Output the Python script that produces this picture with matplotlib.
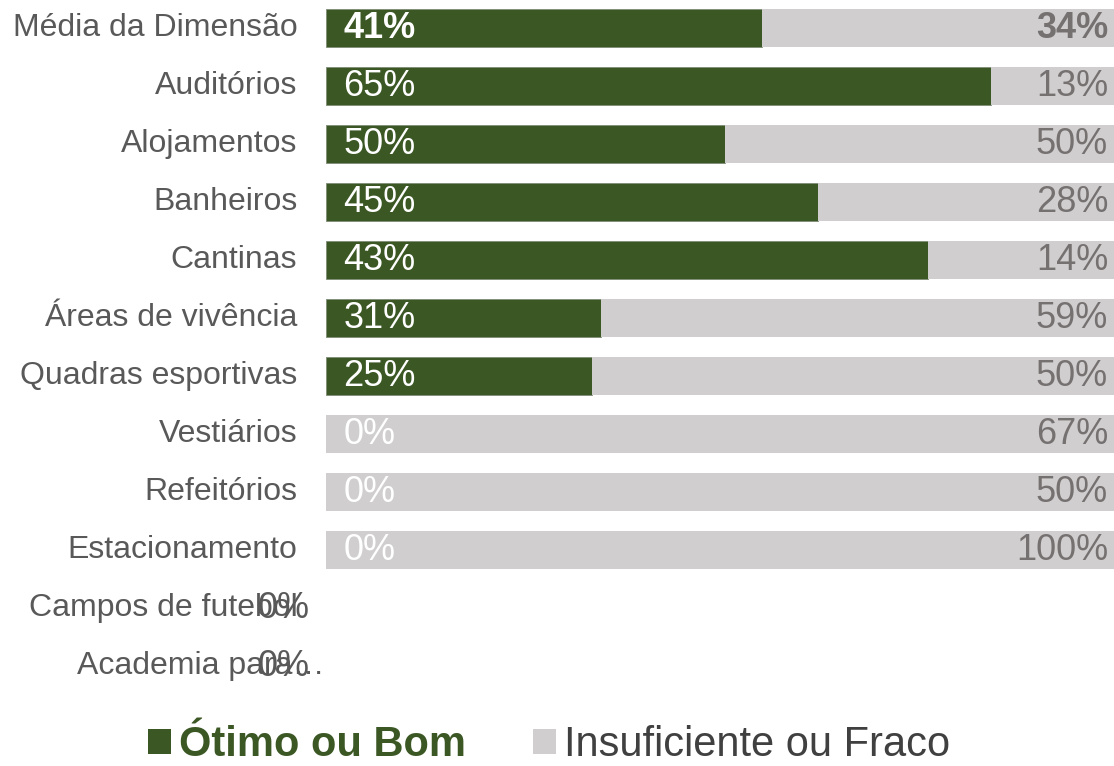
import numpy as np
import matplotlib.pyplot as plt
from matplotlib.patches import Patch

plt.rcParams['font.family'] = ['Liberation Sans', 'DejaVu Sans']

categorias = ["Média da Dimensão", "Auditórios", "Alojamentos", "Banheiros",
              "Cantinas", "Áreas de vivência", "Quadras esportivas", "Vestiários",
              "Refeitórios", "Estacionamento", "Campos de futebol", "Academia para…"]
otimo = [41, 65, 50, 45, 43, 31, 25, 0, 0, 0, 0, 0]
insuficiente = [34, 13, 50, 28, 14, 59, 50, 67, 50, 100, 0, 0]

VERDE = "#3b5724"
CINZA = "#d0cecf"
TXT_CAT = "#595959"
TXT_CINZA = "#767171"

ot = np.array(otimo, dtype=float)
ins = np.array(insuficiente, dtype=float)
total = ot + ins
# stacked 100%: each bar split by share of the two answers
frac_ot = np.divide(ot, total, out=np.zeros_like(ot), where=total > 0)
frac_ins = np.divide(ins, total, out=np.zeros_like(ins), where=total > 0)

W, H = 1114, 766
fig = plt.figure(figsize=(W / 100, H / 100), dpi=100)
ax = fig.add_axes([326 / W, (H - 695) / H, 798 / W, 696 / H])

y = np.arange(len(categorias))
bars = ax.barh(y, frac_ot, height=0.66, color=VERDE, edgecolor="#7f8c76", linewidth=0.6)
for b, f in zip(bars, frac_ot):
    if f == 0:
        b.set_linewidth(0)
ax.barh(y, frac_ins, left=frac_ot, height=0.66, color=CINZA, linewidth=0)

ax.set_xlim(0, 1)
ax.set_ylim(len(categorias) - 0.5, -0.5)
ax.axis("off")

tr = ax.get_yaxis_transform()
for i, cat in enumerate(categorias):
    xr = -0.0013 if cat.endswith("…") else -0.036
    ax.text(xr, i, cat, ha="right", va="center", fontsize=23, color=TXT_CAT, transform=tr)
    if total[i] == 0:
        ax.text(-0.053, i, "0%", ha="center", va="center", fontsize=26,
                color=TXT_CAT, transform=tr)
        continue
    peso = "bold" if i == 0 else "normal"
    ax.text(0.022, i, f"{otimo[i]}%", ha="left", va="center", fontsize=26,
            color="white", fontweight=peso)
    ax.text(0.98, i, f"{insuficiente[i]}%", ha="right", va="center", fontsize=26,
            color=TXT_CINZA, fontweight=peso)

handles = [Patch(facecolor=VERDE, edgecolor="none", label="Ótimo ou Bom"),
           Patch(facecolor=CINZA, edgecolor="none", label="Insuficiente ou Fraco")]
leg = fig.legend(handles=handles, loc="center", bbox_to_anchor=(549 / W, 1 - 745 / H),
                 ncol=2, frameon=False, fontsize=30, handlelength=0.55, handleheight=0.55,
                 handletextpad=0.2, columnspacing=1.6, borderpad=0, borderaxespad=0)
leg.get_texts()[0].set_color(VERDE)
leg.get_texts()[0].set_fontweight("bold")
leg.get_texts()[1].set_color("#404040")

fig.savefig("out.png", dpi=100)
